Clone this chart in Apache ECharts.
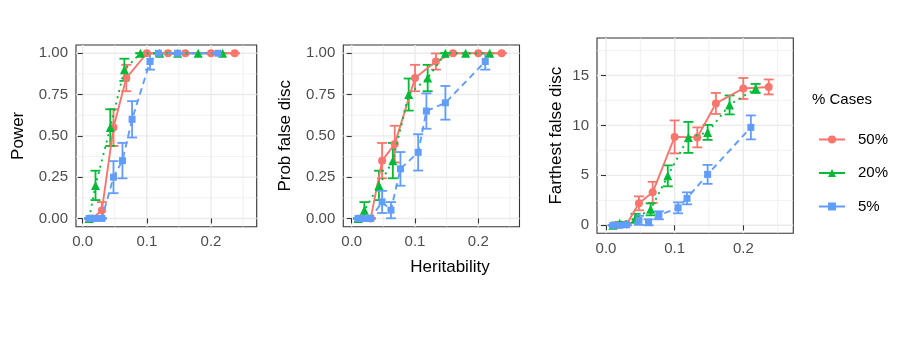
<!DOCTYPE html>
<html>
<head>
<meta charset="utf-8">
<script src="https://cdn.jsdelivr.net/npm/echarts@6/dist/echarts.min.js"></script>
<style>html,body{margin:0;padding:0;background:#fff}#c{width:900px;height:346px}</style>
</head>
<body>
<div id="c"></div>
<script>
// ---- data ----
const seriesNames = ['50%', '20%', '5%'];
const redX   = [0.015, 0.03, 0.048, 0.068, 0.1, 0.133, 0.16, 0.2, 0.237];
const greenX = [0.01, 0.02, 0.043, 0.065, 0.09, 0.12, 0.148, 0.18, 0.218];
const blueX  = [0.01, 0.02, 0.03, 0.048, 0.062, 0.077, 0.105, 0.118, 0.148, 0.211];

// Power
const powerRed     = [0, 0.05, 0.55, 0.85, 1, 1, 1, 1, 1];
const powerRedSe   = [0, 0.049, 0.111, 0.08, 0, 0, 0, 0, 0];
const powerGreen   = [0, 0.2, 0.55, 0.9, 1, 1, 1, 1, 1];
const powerGreenSe = [0, 0.089, 0.111, 0.067, 0, 0, 0, 0, 0];
const powerBlue    = [0, 0, 0, 0.25, 0.35, 0.6, 0.95, 1, 1, 1];
const powerBlueSe  = [0, 0, 0, 0.097, 0.107, 0.11, 0.049, 0, 0, 0];

// Prob false disc
const probRed     = [0, 0, 0.35, 0.45, 0.85, 0.95, 1, 1, 1];
const probRedSe   = [0, 0, 0.107, 0.111, 0.08, 0.049, 0, 0, 0];
const probGreen   = [0, 0.05, 0.2, 0.35, 0.75, 0.85, 1, 1, 1];
const probGreenSe = [0, 0.049, 0.089, 0.107, 0.097, 0.08, 0, 0, 0];
const probBlue    = [0, 0, 0, 0.1, 0.05, 0.3, 0.4, 0.65, 0.7, 0.95];
const probBlueSe  = [0, 0, 0, 0.067, 0.049, 0.102, 0.11, 0.107, 0.102, 0.049];

// Farthest false disc
const farRed     = [0, 0.1, 2.2, 3.3, 8.85, 8.8, 12.2, 13.7, 13.85];
const farRedSe   = [0, 0.1, 0.7, 1.05, 1.65, 1.0, 1.05, 1.05, 0.75];
const farGreen   = [0, 0.2, 0.7, 1.6, 4.95, 8.8, 9.3, 12.05, 13.7];
const farGreenSe = [0, 0.15, 0.45, 0.6, 1.05, 1.55, 0.75, 0.95, 0.45];
const farBlue    = [0, 0, 0.05, 0.5, 0.3, 1.0, 1.75, 2.7, 5.1, 9.8];
const farBlueSe  = [0, 0, 0.05, 0.45, 0.3, 0.4, 0.55, 0.6, 0.95, 1.2];

// ticks
const xTicks = [0, 0.1, 0.2];
const xMinor = [0.05, 0.15, 0.25];
const pTicks = [0, 0.25, 0.5, 0.75, 1];
const pMinor = [0.125, 0.375, 0.625, 0.875];
const fTicks = [0, 5, 10, 15];
const fMinor = [2.5, 7.5, 12.5, 17.5];

const yTitles = ['Power', 'Prob false disc', 'Farthest false disc'];
const xTitle = 'Heritability';
const legendTitle = '% Cases';

// ---- styling / layout ----
const FONT = "'Liberation Sans', Arial, Helvetica, sans-serif";
const colors = ['#F8766D', '#00BA38', '#619CFF'];
const symbols = ['circle', 'triangle', 'rect'];
const symSizes = [8, 9, 7];
const dashes = ['solid', [2, 4.5], [6.5, 4.5]];

const grids = [
  {left: 76, top: 45, width: 180.7, height: 181.7},
  {left: 343.3, top: 45, width: 176.2, height: 181.7},
  {left: 597, top: 38, width: 196.3, height: 195.3}
];
const xRanges = [[-0.0104, 0.2712], [-0.0133, 0.2651], [-0.0131, 0.2728]];
const yRanges = [[-0.05, 1.05], [-0.05, 1.05], [-0.8, 18.75]];
const yTickSets = [pTicks, pTicks, fTicks];
const yMinorSets = [pMinor, pMinor, fMinor];
const yFmt = [v => v.toFixed(2), v => v.toFixed(2), v => String(Math.round(v))];
const nameGaps = [49, 49, 32];

const panelData = [
  [[redX, powerRed, powerRedSe], [greenX, powerGreen, powerGreenSe], [blueX, powerBlue, powerBlueSe]],
  [[redX, probRed, probRedSe], [greenX, probGreen, probGreenSe], [blueX, probBlue, probBlueSe]],
  [[redX, farRed, farRedSe], [greenX, farGreen, farGreenSe], [blueX, farBlue, farBlueSe]]
];

function gridRender(params, api) {
  const cs = params.coordSys;
  const kind = api.value(2);
  const p = api.coord([api.value(0), api.value(1)]);
  const w = (kind === 0 || kind === 2) ? 1.4 : 0.7;
  if (kind < 2) {
    return {type: 'line', shape: {x1: p[0], y1: cs.y, x2: p[0], y2: cs.y + cs.height},
            style: {stroke: '#EBEBEB', lineWidth: w}};
  }
  return {type: 'line', shape: {x1: cs.x, y1: p[1], x2: cs.x + cs.width, y2: p[1]},
          style: {stroke: '#EBEBEB', lineWidth: w}};
}

function makeErrRender(color) {
  return function (params, api) {
    const x = api.value(0);
    const lo = api.coord([x, api.value(1)]);
    const hi = api.coord([x, api.value(2)]);
    const hw = 5;
    const st = {stroke: color, lineWidth: 1.8};
    return {type: 'group', children: [
      {type: 'line', shape: {x1: lo[0], y1: lo[1], x2: hi[0], y2: hi[1]}, style: st},
      {type: 'line', shape: {x1: lo[0] - hw, y1: lo[1], x2: lo[0] + hw, y2: lo[1]}, style: st},
      {type: 'line', shape: {x1: hi[0] - hw, y1: hi[1], x2: hi[0] + hw, y2: hi[1]}, style: st}
    ]};
  };
}

const xAxes = [], yAxes = [], series = [];
for (let g = 0; g < 3; g++) {
  xAxes.push({
    type: 'value', gridIndex: g, min: xRanges[g][0], max: xRanges[g][1],
    axisLine: {show: false},
    axisTick: {show: true, length: 5, customValues: xTicks, lineStyle: {color: '#333333', width: 1.1}},
    axisLabel: {show: true, customValues: xTicks, formatter: v => v.toFixed(1), color: '#4D4D4D',
                fontSize: 15, fontFamily: FONT, margin: 8},
    splitLine: {show: false}
  });
  yAxes.push({
    type: 'value', gridIndex: g, min: yRanges[g][0], max: yRanges[g][1],
    name: yTitles[g], nameLocation: 'middle', nameGap: nameGaps[g],
    nameTextStyle: {fontSize: 17, color: '#000', fontFamily: FONT},
    axisLine: {show: false},
    axisTick: {show: true, length: 5, customValues: yTickSets[g], lineStyle: {color: '#333333', width: 1.1}},
    axisLabel: {show: true, customValues: yTickSets[g], formatter: yFmt[g], color: '#4D4D4D',
                fontSize: 15, fontFamily: FONT, margin: 8},
    splitLine: {show: false}
  });
  const gd = [];
  xTicks.forEach(v => gd.push([v, 0, 0]));
  xMinor.forEach(v => gd.push([v, 0, 1]));
  yTickSets[g].forEach(v => gd.push([0, v, 2]));
  yMinorSets[g].forEach(v => gd.push([0, v, 3]));
  series.push({type: 'custom', name: 'grid' + g, xAxisIndex: g, yAxisIndex: g, z: 0,
               renderItem: gridRender, data: gd, silent: true});
  for (let s = 0; s < 3; s++) {
    const [xs, ys, se] = panelData[g][s];
    series.push({
      type: 'custom', name: 'err' + g + s, xAxisIndex: g, yAxisIndex: g, z: 2, silent: true,
      renderItem: makeErrRender(colors[s]),
      data: xs.map((x, i) => [x, ys[i] - se[i], ys[i] + se[i]])
    });
  }
  for (let s = 0; s < 3; s++) {
    const [xs, ys] = panelData[g][s];
    series.push({
      type: 'line', name: seriesNames[s], xAxisIndex: g, yAxisIndex: g, z: 3 + s,
      data: xs.map((x, i) => [x, ys[i]]),
      symbol: symbols[s], symbolSize: symSizes[s], showSymbol: true,
      itemStyle: {color: colors[s]},
      lineStyle: {color: colors[s], width: 1.9, type: dashes[s]},
      silent: true
    });
  }
}

const chart = echarts.init(document.getElementById('c'), null, {renderer: 'canvas'});
chart.setOption({
  animation: false,
  backgroundColor: '#ffffff',
  grid: grids.map(gr => Object.assign({show: true, borderColor: '#333333', borderWidth: 1.1,
                                       backgroundColor: 'transparent', containLabel: false}, gr)),
  xAxis: xAxes,
  yAxis: yAxes,
  legend: {
    data: seriesNames, orient: 'vertical', left: 818, top: 132, padding: 0,
    itemWidth: 26, itemHeight: 10, itemGap: 18.5,
    textStyle: {fontSize: 15, color: '#000', fontFamily: FONT, padding: [0, 0, 0, 8]},
    lineStyle: {type: 'solid', width: 2},
    selectedMode: false
  },
  graphic: [
    {type: 'text', left: 812, top: 92, style: {text: legendTitle, fontSize: 15, fill: '#000', fontFamily: FONT}},
    {type: 'text', x: 450, y: 267, style: {text: xTitle, fontSize: 17, fill: '#000', fontFamily: FONT,
                                           align: 'center', verticalAlign: 'middle'}}
  ],
  series: series
});
</script>
</body>
</html>
